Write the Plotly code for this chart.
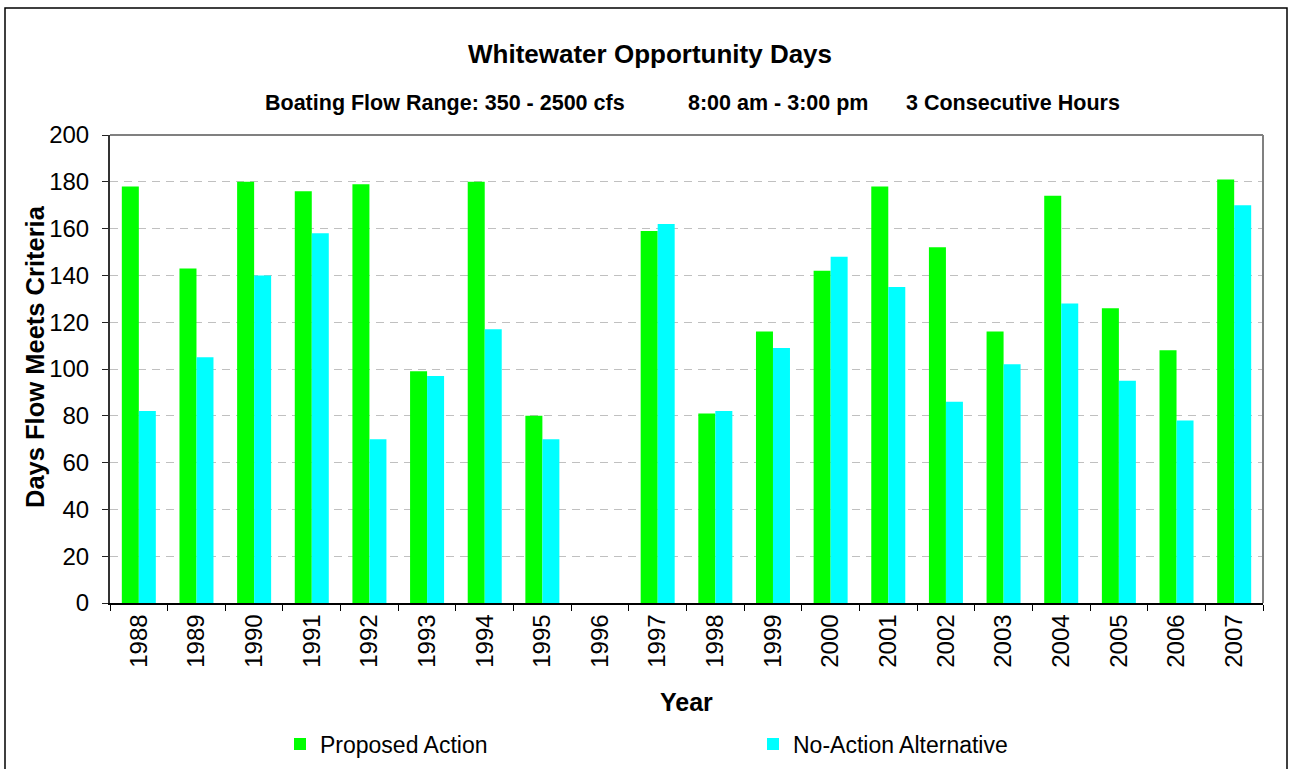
import plotly.graph_objects as go

years = [str(y) for y in range(1988, 2008)]
proposed = [178, 143, 180, 176, 179, 99, 180, 80, 0, 159, 81, 116, 142, 178, 152, 116, 174, 126, 108, 181]
no_action = [82, 105, 140, 158, 70, 97, 117, 70, 0, 162, 82, 109, 148, 135, 86, 102, 128, 95, 78, 170]

W, H = 1289, 769
L, R, T, B = 110, 1263, 135, 603
PW, PH = R - L, B - T


def px(x):
    return (x - L) / PW


def py(y):
    return (B - y) / PH


FONT = "Liberation Sans, Arial, sans-serif"

fig = go.Figure()
fig.add_trace(go.Bar(x=years, y=proposed, name="Proposed Action",
                     marker=dict(color="#00FF00", line=dict(width=0))))
fig.add_trace(go.Bar(x=years, y=no_action, name="No-Action Alternative",
                     marker=dict(color="#00FFFF", line=dict(width=0))))

fig.update_layout(
    width=W, height=H,
    margin=dict(l=L, r=W - R, t=T, b=H - B, pad=0, autoexpand=False),
    paper_bgcolor="white", plot_bgcolor="white",
    font=dict(family=FONT, color="black"),
    barmode="group", bargap=0.41, bargroupgap=0,
    showlegend=True,
    legend=dict(orientation="h", x=px(280), y=py(744), xanchor="left", yanchor="middle",
                font=dict(size=23, family=FONT), entrywidth=428, itemwidth=30,
                bgcolor="rgba(0,0,0,0)", traceorder="normal"),
    xaxis=dict(type="category", tickangle=-90, tickfont=dict(size=24),
               ticks="outside", ticklen=6, tickcolor="black", tickson="boundaries",
               showline=True, linecolor="black", linewidth=1.5,
               showgrid=False, automargin=False),
    yaxis=dict(range=[0, 200], dtick=20, tickfont=dict(size=24),
               ticks="outside", ticklen=6, tickcolor="#222222", ticklabelstandoff=8,
               showline=True, linecolor="#333333", linewidth=2,
               showgrid=True, gridcolor="#c0c0c0", gridwidth=1, griddash="8px,6px",
               zeroline=False, automargin=False),
)

annotations = [
    dict(text="<b>Whitewater Opportunity Days</b>", x=px(650), y=py(54), font=dict(size=26)),
    dict(text="<b>Boating Flow Range: 350 - 2500 cfs</b>", x=px(444.5), y=py(103), font=dict(size=21.5)),
    dict(text="<b>8:00 am - 3:00 pm</b>", x=px(778), y=py(103), font=dict(size=21.5)),
    dict(text="<b>3 Consecutive Hours</b>", x=px(1013), y=py(103), font=dict(size=21.5)),
    dict(text="<b>Year</b>", x=px(686), y=py(702), font=dict(size=25)),
    dict(text="<b>Days Flow Meets Criteria</b>", x=px(35), y=py(357), font=dict(size=25.5), textangle=-90),
]
for a in annotations:
    fig.add_annotation(xref="paper", yref="paper", showarrow=False,
                       xanchor="center", yanchor="middle", **a)

# plot-area top and right borders (gray)
fig.add_shape(type="line", xref="paper", yref="paper", x0=0, x1=1, y0=1, y1=1,
              line=dict(color="#808080", width=2))
fig.add_shape(type="line", xref="paper", yref="paper", x0=1, x1=1, y0=0, y1=1,
              line=dict(color="#808080", width=2))
# outer chart frame
fig.add_shape(type="rect", xref="paper", yref="paper", x0=px(5), x1=px(1287), y0=py(790), y1=py(8),
              line=dict(color="black", width=1.5), fillcolor="rgba(0,0,0,0)", layer="above")

fig.write_html("out.html", config={"displayModeBar": False},
               post_script="document.body.style.margin='0';document.body.style.overflow='hidden';")
